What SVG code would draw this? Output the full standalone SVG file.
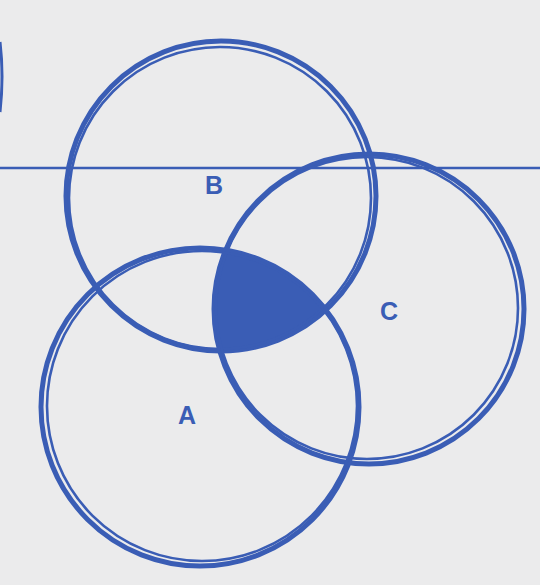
<svg xmlns="http://www.w3.org/2000/svg" width="540" height="585" viewBox="0 0 540 585">
<style>
.ring{fill:none;stroke:#3a5db5;stroke-width:5}
.ring2{fill:none;stroke:#3a5db5;stroke-width:2.6}
.lbl{font-family:"Liberation Sans",Arial,sans-serif;font-weight:bold;font-size:25px;fill:#3a5db5;text-anchor:middle}
</style>
<defs>
<clipPath id="clipB"><circle cx="221" cy="196" r="155"/></clipPath>
<clipPath id="clipC"><circle cx="369" cy="309" r="156"/></clipPath>
</defs>
<rect width="540" height="585" fill="#ebebec"/>
<path d="M0,42 Q4,76 0,112" fill="none" stroke="#3a5db5" stroke-width="3"/>
<g id="rule">
<line x1="0" y1="168" x2="540" y2="168" stroke="#3a5db5" stroke-width="2.5"/>
</g>
<g id="overlap">
<g clip-path="url(#clipC)"><circle cx="200" cy="407" r="159" fill="#3a5db5" clip-path="url(#clipB)"/></g>
</g>
<g id="circle-b">
<circle class="ring" cx="221" cy="196" r="155"/>
<circle class="ring2" cx="220" cy="198" r="151"/>
<text class="lbl" x="214" y="194">B</text>
</g>
<g id="circle-c">
<circle class="ring" cx="369" cy="309" r="155"/>
<circle class="ring2" cx="367" cy="308" r="151"/>
<text class="lbl" x="389" y="320">C</text>
</g>
<g id="circle-a">
<circle class="ring" cx="200" cy="407" r="159"/>
<circle class="ring2" cx="202" cy="406" r="155"/>
<text class="lbl" x="187" y="424">A</text>
</g>
</svg>
